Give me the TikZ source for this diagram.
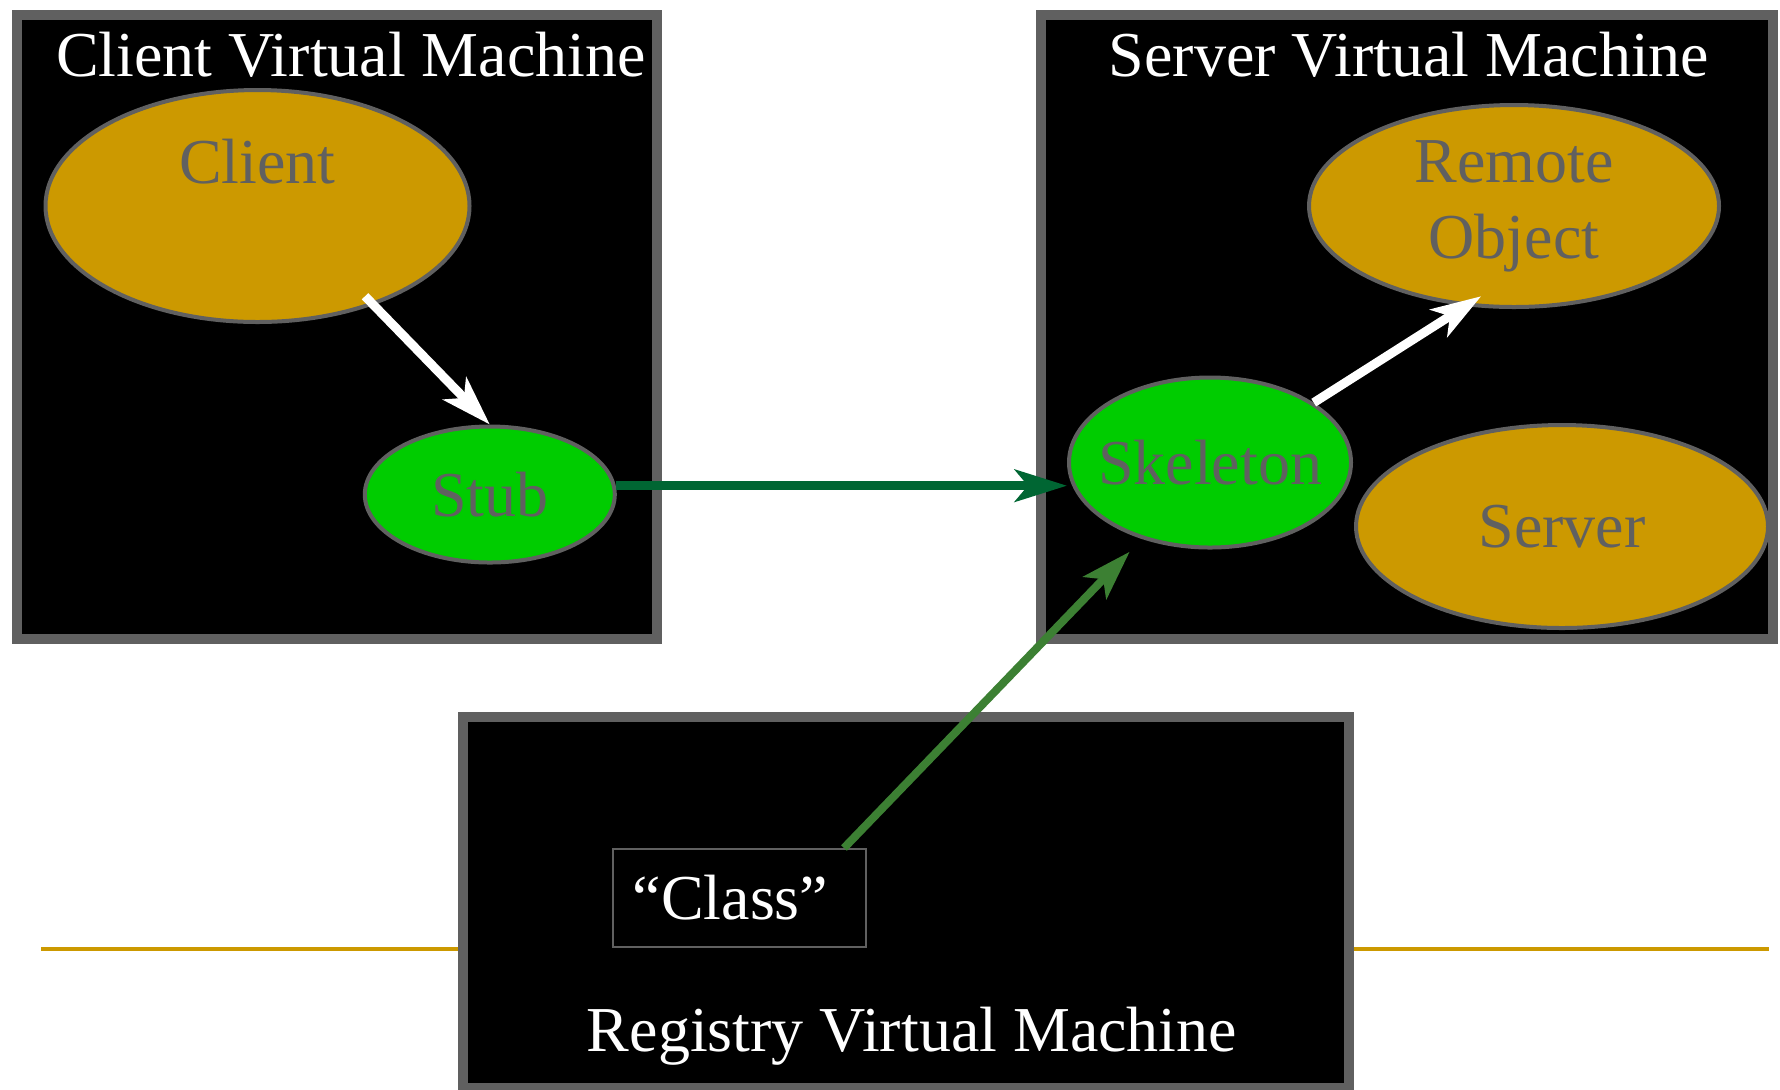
\documentclass[tikz,border=0pt]{standalone}
\usepackage{fontspec}
\setmainfont{Liberation Serif}
\usetikzlibrary{shapes.geometric,arrows.meta,calc}
\definecolor{vmgray}{HTML}{606060}
\definecolor{objgold}{HTML}{CC9900}
\definecolor{proxygreen}{HTML}{00CC00}
\definecolor{callgreen}{HTML}{006633}
\definecolor{lookupgreen}{HTML}{3C8033}

\begin{document}
\begin{tikzpicture}[x=0.5pt,y=-0.5pt,font=\fontsize{32}{38}\selectfont]
    \tikzstyle{vm}=[draw=vmgray,fill=black,line width=5pt,inner sep=0pt]
    \tikzstyle{vmtitle}=[text=white,anchor=base,inner sep=0pt]
    \tikzstyle{obj}=[ellipse,draw=vmgray,line width=2pt,inner sep=0pt,text=vmgray,align=center]
    \tikzstyle{gold}=[fill=objgold]
    \tikzstyle{proxy}=[fill=proxygreen]
    \tikzstyle{local}=[draw=white,line width=4.5pt,-{Stealth[length=25pt,width=16pt,inset=6.5pt]}]
    \tikzstyle{call}=[draw=callgreen,line width=4.5pt,-{Stealth[length=26pt,width=16pt,inset=6.5pt]}]
    \tikzstyle{lookup}=[draw=lookupgreen,line width=4pt,-{Stealth[length=25pt,width=16pt,inset=6pt]}]

    \useasboundingbox (0,0) rectangle (1780,1089);

    \coordinate (ruleL) at (41,949);
    \coordinate (ruleR) at (1769,949);
    \draw[objgold,line width=2pt] (ruleL) -- (ruleR);

    \node[vm,minimum width=320pt,minimum height=312pt] (clientvm) at (337,326.5) {};
    \node[vm,minimum width=366pt,minimum height=312pt] (servervm) at (1406.5,326.5) {};
    \node[vm,minimum width=442.75pt,minimum height=185.75pt] (registryvm) at (905.75,902.25) {};

    \node[vmtitle] (clienttitle) at (351,76) {Client Virtual Machine};
    \node[vmtitle] (servertitle) at (1409,76) {Server Virtual Machine};
    \node[vmtitle] (registrytitle) at (912,1051) {Registry Virtual Machine};

    \node[obj,gold,minimum width=212pt,minimum height=116pt] (client) at (257.5,206) {Client\\\phantom{j}};
    \node[obj,proxy,minimum width=125pt,minimum height=68pt] (stub) at (489.8,494.5) {Stub};
    \node[obj,gold,minimum width=205pt,minimum height=101pt] (remote) at (1514,206) {Remote\\Object};
    \node[obj,proxy,minimum width=141pt,minimum height=85pt] (skeleton) at (1210,462.5) {\makebox[0pt]{Skeleton}};
    \node[obj,gold,minimum width=206pt,minimum height=101.5pt] (server) at (1562,526.5) {Server};

    \node[draw=vmgray,line width=1pt,text=white,minimum width=126.5pt,minimum height=49pt,inner sep=0pt] (class) at (739.5,898) {“Class”\hspace*{9pt}};

   \draw [local] ($(client.center)!0.915!(client.-40)$) -- (stub.north);
   \draw [local] (skeleton.30) -- ($(remote.center)!0.89!(remote.-110)$);
   \draw [call] (stub.4) -- (stub.4 -| skeleton.west);
   \draw [lookup] ([xshift=-11.5pt]class.north east) -- ($(skeleton.center)!1.17!(skeleton.-132)$);

\end{tikzpicture}
\end{document}
